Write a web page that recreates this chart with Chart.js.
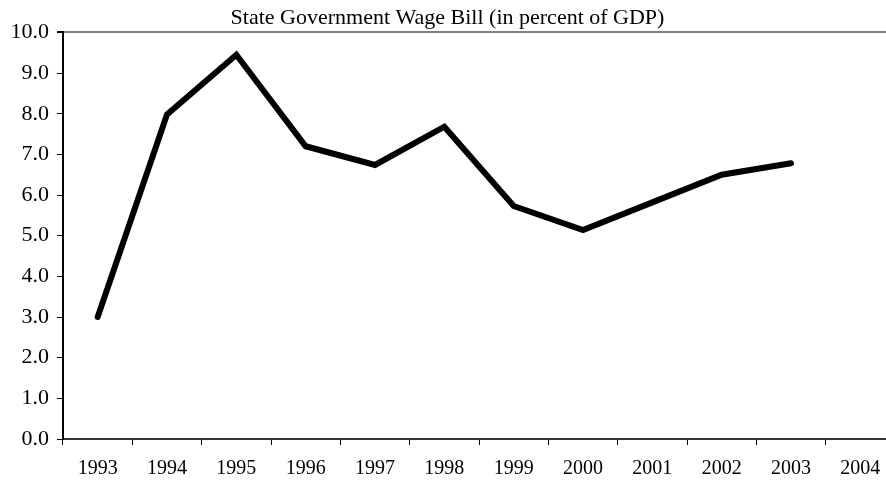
<!DOCTYPE html>
<html>
<head>
<meta charset="utf-8">
<script src="https://cdn.jsdelivr.net/npm/chart.js@4/dist/chart.umd.min.js"></script>
<style>
html,body{margin:0;padding:0;overflow:hidden;background:#fff;}
#wrap{width:896px;height:487px;position:relative;}
</style>
</head>
<body>
<div id="wrap"><canvas id="c" width="896" height="487"></canvas></div>
<script>
const years = ["1993","1994","1995","1996","1997","1998","1999","2000","2001","2002","2003","2004"];
const wageBill = [3.0, 7.98, 9.45, 7.2, 6.74, 7.68, 5.73, 5.14, 5.82, 6.5, 6.78, null];
const chartTitle = "State Government Wage Bill (in percent of GDP)";
const yMin = 0, yMax = 10, yStep = 1;

const serif = "'Liberation Serif', 'Times New Roman', serif";

new Chart(document.getElementById('c'), {
  type: 'line',
  data: {
    labels: years,
    datasets: [{
      data: wageBill,
      borderColor: '#000',
      borderWidth: 6,
      borderCapStyle: 'round',
      borderJoinStyle: 'miter',
      pointRadius: 0,
      tension: 0,
      spanGaps: false,
      fill: false
    }]
  },
  options: {
    responsive: false,
    animation: false,
    layout: { padding: { top: 5, right: 1, bottom: 0, left: 0 } },
    plugins: {
      legend: { display: false },
      tooltip: { enabled: false },
      title: {
        display: true,
        text: chartTitle,
        color: '#000',
        font: { family: serif, size: 22, weight: 'normal', lineHeight: 1.2 },
        padding: { top: 0, bottom: 1 }
      }
    },
    scales: {
      x: {
        type: 'category',
        offset: true,
        grid: {
          offset: true,
          drawOnChartArea: false,
          drawTicks: true,
          tickLength: 6,
          tickColor: '#000',
          color: '#000'
        },
        border: { display: true, color: '#333', width: 2 },
        ticks: {
          color: '#000',
          font: { family: serif, size: 20 },
          padding: 12,
          maxRotation: 0,
          autoSkip: false
        },
        afterFit: (s) => { s.height = 48; }
      },
      y: {
        min: yMin, max: yMax,
        grid: {
          drawTicks: true,
          tickLength: 6,
          tickColor: '#000',
          color: (ctx) => (ctx.tick && ctx.tick.value === yMax) ? '#808080' : 'rgba(0,0,0,0)',
          lineWidth: (ctx) => (ctx.tick && ctx.tick.value === yMax) ? 2 : 1
        },
        border: { display: true, color: '#000', width: 2 },
        ticks: {
          stepSize: yStep,
          color: '#000',
          font: { family: serif, size: 22 },
          padding: 8,
          callback: (v) => Number(v).toFixed(1)
        },
        afterFit: (s) => { s.width = 63; }
      }
    }
  }
});
</script>
</body>
</html>
